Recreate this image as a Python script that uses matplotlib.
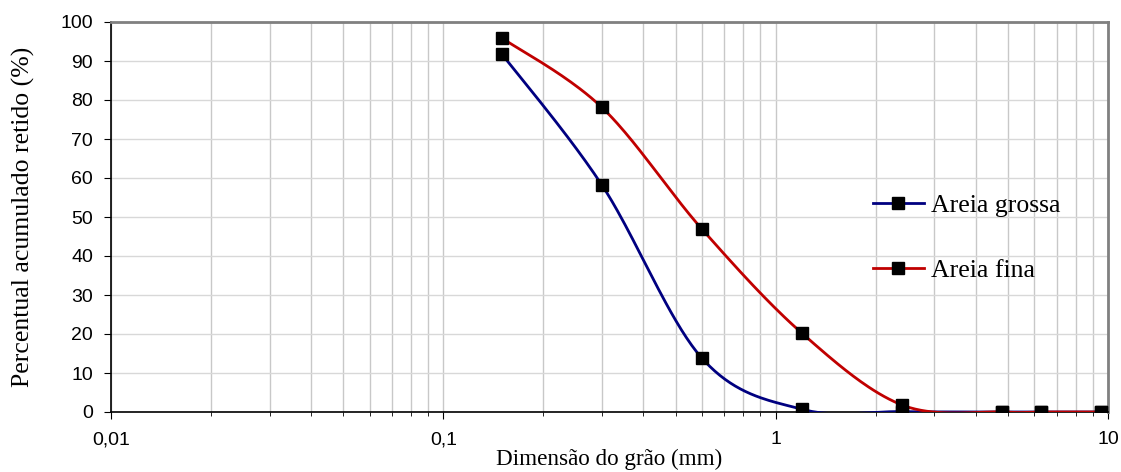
import numpy as np
import matplotlib.pyplot as plt
from matplotlib.ticker import LogLocator, FixedLocator, FuncFormatter, NullFormatter

# sieve openings (mm) and cumulative retained (%)
abertura = [0.15, 0.3, 0.6, 1.2, 2.4, 4.8, 6.3, 9.5]
areia_grossa = [91.8, 58.2, 13.8, 0.7, 0.1, 0.0, 0.0, 0.0]
areia_fina = [95.9, 78.1, 46.9, 20.2, 1.8, 0.0, 0.0, 0.0]


def smooth(x, y, n=40):
    # Excel-style smoothed line: Catmull-Rom through the points, in log-x space
    lx = np.log10(x)
    y = np.asarray(y, float)
    px = np.concatenate([[lx[0]], lx, [lx[-1]]])
    py = np.concatenate([[y[0]], y, [y[-1]]])
    xs, ys = [], []
    t = np.linspace(0, 1, n)
    for i in range(1, len(px) - 2):
        p0 = np.array([px[i], py[i]])
        p3 = np.array([px[i + 1], py[i + 1]])
        c1 = p0 + (np.array([px[i + 1], py[i + 1]]) - np.array([px[i - 1], py[i - 1]])) / 6
        c2 = p3 - (np.array([px[i + 2], py[i + 2]]) - np.array([px[i], py[i]])) / 6
        for tt in t:
            b = ((1 - tt) ** 3 * p0 + 3 * (1 - tt) ** 2 * tt * c1
                 + 3 * (1 - tt) * tt ** 2 * c2 + tt ** 3 * p3)
            xs.append(b[0])
            ys.append(b[1])
    return 10 ** np.array(xs), np.array(ys)


fig = plt.figure(figsize=(11.21, 4.72), dpi=100)
ax = fig.add_axes([111 / 1121, 1 - 412 / 472, (1108 - 111) / 1121, (412 - 22) / 472])

for y, cor, nome in [(areia_grossa, '#000080', 'Areia grossa'), (areia_fina, '#c00000', 'Areia fina')]:
    sx, sy = smooth(abertura, y)
    ax.plot(sx, sy, color=cor, lw=2, zorder=3)
    ax.plot(abertura, y, ls='none', marker='s', ms=8, color='black', zorder=4)
    ax.plot([], [], color=cor, lw=2, marker='s', ms=8, mfc='black', mec='black', label=nome)

ax.set_xscale('log')
ax.set_xlim(0.01, 10)
ax.set_ylim(0, 100)
ax.set_yticks(range(0, 101, 10))
ax.xaxis.set_major_locator(FixedLocator([0.01, 0.1, 1, 10]))
ax.xaxis.set_major_formatter(FuncFormatter(lambda v, p: ('%g' % v).replace('.', ',')))
ax.xaxis.set_minor_locator(LogLocator(base=10, subs=np.arange(2, 10)))
ax.xaxis.set_minor_formatter(NullFormatter())

ax.grid(True, which='both', axis='x', color='#c8c8c8', lw=1)
ax.grid(True, which='major', axis='y', color='#d8d8d8', lw=1)
ax.set_axisbelow(True)

for s in ['left', 'bottom']:
    ax.spines[s].set_color('black')
    ax.spines[s].set_linewidth(1.2)
for s in ['top', 'right']:
    ax.spines[s].set_color('#808080')
    ax.spines[s].set_linewidth(2)

for lab in ax.get_xticklabels() + ax.get_yticklabels():
    lab.set_fontfamily('Liberation Sans')
    lab.set_fontsize(14)
ax.tick_params(which='both', direction='out', color='black')
ax.tick_params(which='major', length=5)
ax.tick_params(which='minor', length=3)
ax.tick_params(axis='y', pad=8)
ax.tick_params(axis='x', which='major', pad=9)

ax.set_xlabel('Dimensão do grão (mm)', family='Liberation Serif', fontsize=16.7, labelpad=0)
ax.set_ylabel('Percentual acumulado retido (%)', family='Liberation Serif', fontsize=18.5, labelpad=18)

leg = ax.legend(loc='upper left', bbox_to_anchor=(0.764, 0.56), frameon=False,
                prop={'family': 'Liberation Serif', 'size': 18.5}, labelspacing=1.66,
                handlelength=2.0, handletextpad=0.25, borderpad=0, borderaxespad=0)

fig.savefig('out.png', dpi=100)
